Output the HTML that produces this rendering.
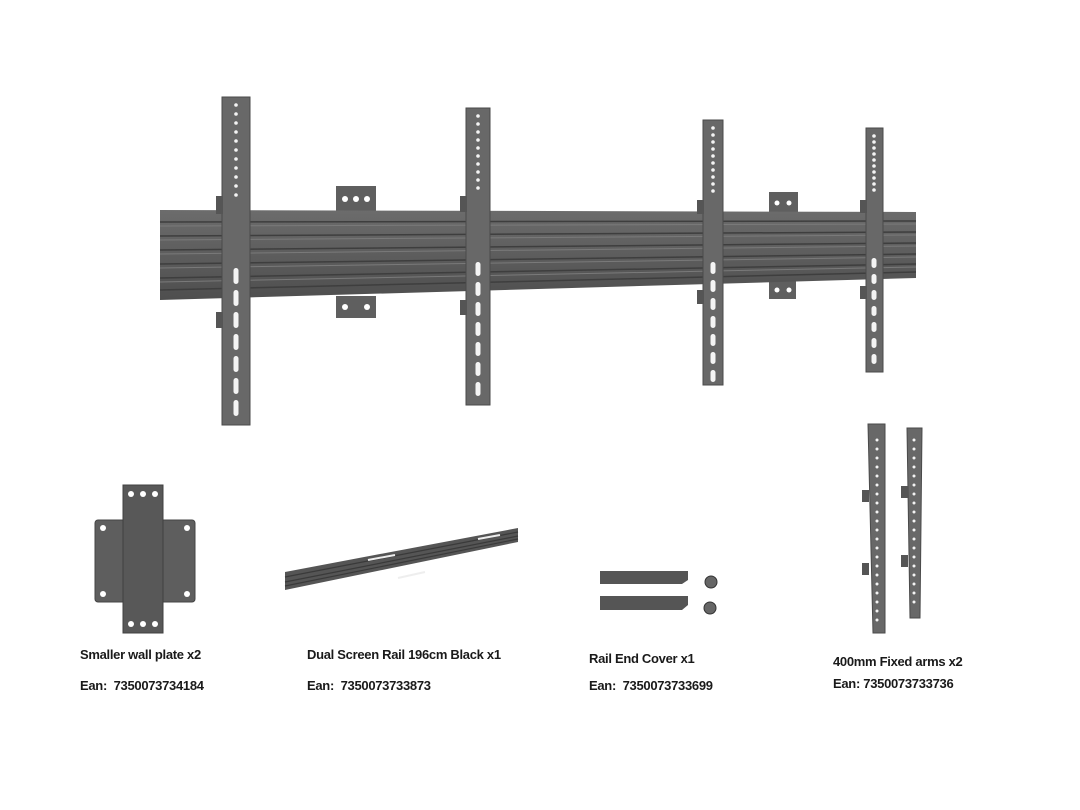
<!DOCTYPE html>
<html><head><meta charset="utf-8"><style>
html,body{margin:0;padding:0;background:#fff;}
#c{position:relative;width:1080px;height:810px;overflow:hidden;background:#fff;}
.t{position:absolute;font-family:"Liberation Sans",sans-serif;font-weight:bold;font-size:13px;color:#1a1a1a;white-space:nowrap;letter-spacing:-0.3px;}
</style></head><body><div id="c">
<svg width="1080" height="810" style="position:absolute;left:0;top:0">
<defs>
<linearGradient id="rg" x1="0" y1="0" x2="0" y2="1">
<stop offset="0" stop-color="#6c6c6c"/><stop offset="1" stop-color="#4e4e4e"/></linearGradient>
</defs>
<g fill="#5f5f5f">
<rect x="336" y="186" width="40" height="26"/><rect x="336" y="296" width="40" height="22"/>
<rect x="769" y="192" width="29" height="22"/><rect x="769" y="280" width="27" height="19"/>
</g>
<g fill="#fff">
<circle cx="345" cy="199" r="3"/><circle cx="356" cy="199" r="3"/><circle cx="367" cy="199" r="3"/>
<circle cx="345" cy="307" r="3"/><circle cx="367" cy="307" r="3"/>
<circle cx="777" cy="203" r="2.5"/><circle cx="789" cy="203" r="2.5"/>
<circle cx="777" cy="290" r="2.5"/><circle cx="789" cy="290" r="2.5"/>
</g>
<polygon points="160,210 916,212 916,278 160,300" fill="url(#rg)"/>
<g stroke="#3e3e3e" stroke-width="1.5">
<line x1="160" y1="222" x2="916" y2="221"/>
<line x1="160" y1="236" x2="916" y2="232"/>
<line x1="160" y1="250" x2="916" y2="243"/>
<line x1="160" y1="264" x2="916" y2="254"/>
<line x1="160" y1="278" x2="916" y2="264"/>
<line x1="160" y1="290" x2="916" y2="272"/>
</g>
<g stroke="#7a7a7a" stroke-width="1">
<line x1="160" y1="226" x2="916" y2="224"/>
<line x1="160" y1="240" x2="916" y2="235"/>
<line x1="160" y1="254" x2="916" y2="246"/>
<line x1="160" y1="268" x2="916" y2="257"/>
<line x1="160" y1="282" x2="916" y2="267"/>
</g>
<g fill="#686868" stroke="#4a4a4a" stroke-width="1">
<rect x="222" y="97" width="28" height="328"/>
<rect x="466" y="108" width="24" height="297"/>
<rect x="703" y="120" width="20" height="265"/>
<rect x="866" y="128" width="17" height="244"/>
</g>
<g fill="#555">
<rect x="216" y="196" width="7" height="18"/><rect x="216" y="312" width="7" height="16"/>
<rect x="460" y="196" width="7" height="16"/><rect x="460" y="300" width="7" height="15"/>
<rect x="697" y="200" width="7" height="14"/><rect x="697" y="290" width="7" height="14"/>
<rect x="860" y="200" width="7" height="13"/><rect x="860" y="286" width="7" height="13"/>
</g>
<rect x="95" y="520" width="100" height="82" rx="3" fill="#5e5e5e" stroke="#444"/>
<rect x="123" y="485" width="40" height="148" fill="#585858" stroke="#404040"/>
<g fill="#fff"><circle cx="103" cy="528" r="3"/><circle cx="187" cy="528" r="3"/><circle cx="103" cy="594" r="3"/><circle cx="187" cy="594" r="3"/>
<circle cx="131" cy="494" r="3"/><circle cx="143" cy="494" r="3"/><circle cx="155" cy="494" r="3"/>
<circle cx="131" cy="624" r="3"/><circle cx="143" cy="624" r="3"/><circle cx="155" cy="624" r="3"/></g>
<polygon points="285,572 518,528 518,542 285,590" fill="#555"/>
<g stroke="#3a3a3a" stroke-width="1.2"><line x1="285" y1="577" x2="518" y2="532"/><line x1="285" y1="582" x2="518" y2="536"/><line x1="285" y1="586" x2="518" y2="539"/></g>
<g stroke="#eee" stroke-width="2"><line x1="368" y1="560" x2="395" y2="555"/><line x1="478" y1="539" x2="500" y2="535"/><line x1="398" y1="578" x2="425" y2="572"/></g>
<polygon points="600,571 688,571 688,580 682,584 600,584" fill="#555"/>
<polygon points="600,596 688,596 688,605 682,610 600,610" fill="#555"/>
<g fill="#666" stroke="#333"><circle cx="711" cy="582" r="6"/><circle cx="710" cy="608" r="6"/></g>
<polygon points="868,424 885,424 885,633 873,633" fill="#686868" stroke="#4a4a4a"/>
<polygon points="907,428 922,428 920,618 910,618" fill="#686868" stroke="#4a4a4a"/>
<g fill="#555"><rect x="862" y="490" width="7" height="12"/><rect x="862" y="563" width="7" height="12"/><rect x="901" y="486" width="7" height="12"/><rect x="901" y="555" width="7" height="12"/></g>
<g fill="#f4f4f4" id="holes"></g>
</svg>
<div class="t" style="left:80px;top:647px">Smaller wall plate x2</div>
<div class="t" style="left:80px;top:678px">Ean:&nbsp; 7350073734184</div>
<div class="t" style="left:307px;top:647px">Dual Screen Rail 196cm Black x1</div>
<div class="t" style="left:307px;top:678px">Ean:&nbsp; 7350073733873</div>
<div class="t" style="left:589px;top:651px">Rail End Cover x1</div>
<div class="t" style="left:589px;top:678px">Ean:&nbsp; 7350073733699</div>
<div class="t" style="left:833px;top:654px">400mm Fixed arms x2</div>
<div class="t" style="left:833px;top:676px">Ean: 7350073733736</div>
<script>
var s=document.getElementById('holes'),ns='http://www.w3.org/2000/svg';
[[236,105,200,9],[478,116,190,8],[713,128,196,7],[874,136,196,6]].forEach(function(a){
for(var y=a[1];y<a[2];y+=a[3]){var c=document.createElementNS(ns,'circle');c.setAttribute('cx',a[0]);c.setAttribute('cy',y);c.setAttribute('r',1.8);s.appendChild(c);}
});
[[236,268,420,22],[478,262,400,20],[713,262,380,18],[874,258,368,16]].forEach(function(a){
for(var y=a[1];y<a[2];y+=a[3]){var r=document.createElementNS(ns,'rect');r.setAttribute('x',a[0]-2.5);r.setAttribute('y',y);r.setAttribute('width',5);r.setAttribute('height',a[3]-6);r.setAttribute('rx',2.5);s.appendChild(r);}
});
[[877,440,625,9],[914,440,610,9]].forEach(function(a){
for(var y=a[1];y<a[2];y+=a[3]){var c=document.createElementNS(ns,'circle');c.setAttribute('cx',a[0]);c.setAttribute('cy',y);c.setAttribute('r',1.5);s.appendChild(c);}
});
</script>
</div></body></html>
